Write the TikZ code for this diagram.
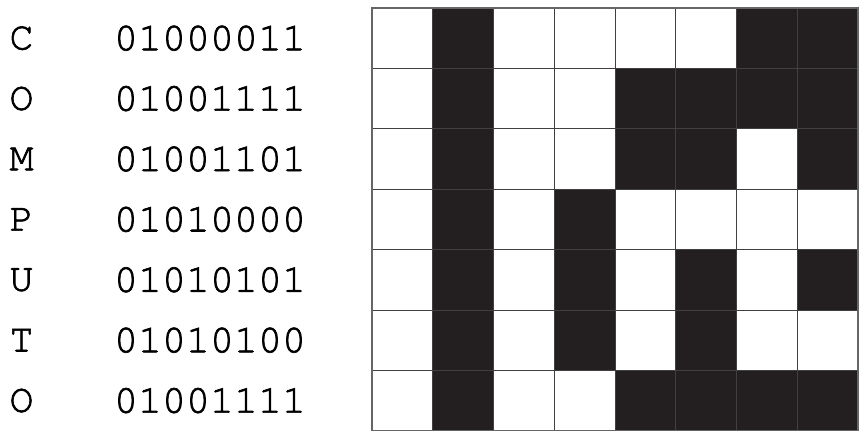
\documentclass[tikz,border=0pt]{standalone}
\usepackage{fontspec}
\setmonofont[FakeBold=1.6]{TeX Gyre Cursor}
\usepackage{tikz}
\definecolor{inkblack}{HTML}{231F20}
\tikzset{%
  cellbox/.style={draw=black!75, line width=0.5pt},
  %oncell/.style={fill=inkblack}
  chartext/.style={font=\ttfamily\fontsize{20}{24}\selectfont, inner sep=0pt}
}

\begin{document}
\begin{tikzpicture}[x=0.5pt,y=-0.5pt]
\useasboundingbox (0,0) rectangle (866,438);
% letters, codes and bitmap row by row
\foreach \r/\ch/\code/\bits in {0/C/01000011/{0,1,0,0,0,0,1,1},
                                1/O/01001111/{0,1,0,0,1,1,1,1},
                                2/M/01001101/{0,1,0,0,1,1,0,1},
                                3/P/01010000/{0,1,0,1,0,0,0,0},
                                4/U/01010101/{0,1,0,1,0,1,0,1},
                                5/T/01010100/{0,1,0,1,0,1,0,0},
                                6/O/01001111/{0,1,0,0,1,1,1,1}}{
  \node[chartext] (let\r) at (21.5, 38.2+60.4*\r) {\ch};
  \node[chartext] (code\r) at (210, 38.2+60.4*\r) {\code};
  \foreach \b [count=\c from 0] in \bits {
    \ifnum\b=1
      \filldraw[cellbox, fill=inkblack] (372+60.75*\c, 8+60.4*\r) rectangle ++(60.75,60.4);
    \else
      \filldraw[cellbox, fill=white] (372+60.75*\c, 8+60.4*\r) rectangle ++(60.75,60.4);
    \fi
  }
}
\draw[black!60, line width=0.6pt] (372,8) rectangle (858,430.8);
\end{tikzpicture}
\end{document}
